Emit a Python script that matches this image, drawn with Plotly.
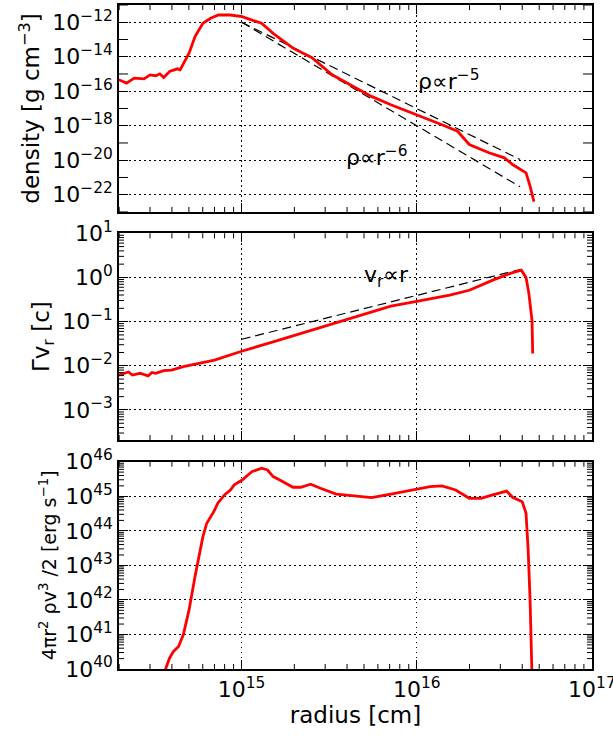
import numpy as np
import plotly.graph_objects as go

# ---- data (log10 values) ----
dens_logr = [14.298, 14.343, 14.387, 14.443, 14.477, 14.51, 14.533, 14.555, 14.589, 14.633, 14.649,
             14.70, 14.734, 14.779, 14.823, 14.868, 14.936, 15.003, 15.114, 15.18, 15.293, 15.405,
             15.517, 15.629, 15.741, 15.852, 16.0, 16.144, 16.233, 16.30, 16.412, 16.50, 16.547,
             16.624, 16.647, 16.669]
dens_logv = [-15.33, -15.53, -15.24, -15.28, -15.05, -15.1, -14.99, -15.2, -14.85, -14.70, -14.76,
             -13.79, -12.83, -12.06, -11.77, -11.58, -11.58, -11.68, -12.06, -12.64, -13.5, -14.08,
             -15.05, -15.68, -16.3, -16.78, -17.36, -17.94, -18.32, -19.09, -19.57, -19.86, -20.25,
             -20.73, -21.5, -22.4]
ref5_logr = [15.0, 16.59]
ref5_logv = [-12.0, -19.96]
ref6_logr = [15.0, 16.59]
ref6_logv = [-12.0, -21.54]

vel_logr = [14.298, 14.354, 14.376, 14.42, 14.466, 14.488, 14.51, 14.555, 14.6, 14.667, 14.845,
            15.0, 15.18, 15.405, 15.629, 15.852, 16.0, 16.188, 16.30, 16.434, 16.547, 16.597,
            16.624, 16.64, 16.658, 16.662]
vel_logv = [-2.21, -2.14, -2.21, -2.17, -2.23, -2.15, -2.17, -2.11, -2.10, -2.02, -1.87,
            -1.67, -1.46, -1.19, -0.91, -0.65, -0.54, -0.40, -0.29, -0.06, 0.11, 0.165,
            0.0, -0.36, -0.97, -1.72]
refv_logr = [15.0, 16.59]
refv_logv = [-1.40, 0.18]

lum_logr = [14.55, 14.566, 14.589, 14.611, 14.64, 14.667, 14.70, 14.734, 14.779, 14.801, 14.842,
            14.864, 14.902, 14.936, 14.958, 15.003, 15.058, 15.114, 15.148, 15.18, 15.226,
            15.293, 15.338, 15.394, 15.45, 15.54, 15.629, 15.741, 15.852, 16.0, 16.076, 16.144,
            16.222, 16.30, 16.367, 16.434, 16.513, 16.547, 16.602, 16.624, 16.636, 16.647,
            16.658, 16.662]
lum_logv = [39.6, 40.0, 40.32, 40.51, 40.65, 40.99, 41.71, 42.68, 43.83, 44.22, 44.56,
            44.80, 45.04, 45.18, 45.33, 45.47, 45.71, 45.81, 45.76, 45.57, 45.45,
            45.26, 45.26, 45.35, 45.23, 45.06, 45.02, 44.96, 45.06, 45.20, 45.28, 45.30,
            45.18, 44.94, 44.94, 45.04, 45.15, 44.97, 44.84, 44.51, 43.45, 42.0,
            40.0, 39.0]

dens_ticks = [-22, -20, -18, -16, -14, -12]
dens_minor = [-23, -21, -19, -17, -15, -13, -11]
vel_ticks = [-3, -2, -1, 0, 1]
lum_ticks = [40, 41, 42, 43, 44, 45, 46]
x_ticks = [15, 16, 17]


def p10(a):
    return [10.0 ** v for v in a]


def lab(k):
    s = str(k).replace("-", "\u2212")
    return "10<sup>" + s + "</sup>"


def minor_vals(d0, d1, lo, hi):
    out = []
    for d in range(d0, d1):
        for m in range(2, 10):
            v = np.log10(m) + d
            if lo < v < hi:
                out.append(m * 10.0 ** d)
    return out


RED = "#ff0000"
DASH = "9px,5px"
fig = go.Figure()
fig.add_trace(go.Scatter(x=p10(ref5_logr), y=p10(ref5_logv), mode="lines",
                         line=dict(color="black", width=1.2, dash=DASH), xaxis="x", yaxis="y"))
fig.add_trace(go.Scatter(x=p10(ref6_logr), y=p10(ref6_logv), mode="lines",
                         line=dict(color="black", width=1.2, dash=DASH), xaxis="x", yaxis="y"))
fig.add_trace(go.Scatter(x=p10(dens_logr), y=p10(dens_logv), mode="lines",
                         line=dict(color=RED, width=2.8), xaxis="x", yaxis="y"))
fig.add_trace(go.Scatter(x=p10(refv_logr), y=p10(refv_logv), mode="lines",
                         line=dict(color="black", width=1.2, dash=DASH), xaxis="x2", yaxis="y2"))
fig.add_trace(go.Scatter(x=p10(vel_logr), y=p10(vel_logv), mode="lines",
                         line=dict(color=RED, width=2.8), xaxis="x2", yaxis="y2"))
fig.add_trace(go.Scatter(x=p10(lum_logr), y=p10(lum_logv), mode="lines",
                         line=dict(color=RED, width=2.8), xaxis="x3", yaxis="y3"))

FONT = "DejaVu Sans"
XR = [14.3, 17.0005]
common = dict(type="log", showline=True, linecolor="black", linewidth=1.5, mirror="allticks",
              ticks="inside", ticklen=9, tickwidth=1, tickcolor="black",
              showgrid=True, gridcolor="black", griddash="1.5px,3.5px", gridwidth=1,
              zeroline=False, automargin=False, ticklabeloverflow="allow",
              tickfont=dict(family=FONT, size=22, color="black"))


def xax(anchor, show_labels, title=None):
    d = dict(common)
    d.update(range=XR, anchor=anchor, tickmode="array",
             tickvals=p10(x_ticks), ticktext=[lab(k) for k in x_ticks],
             showticklabels=show_labels)
    if title:
        d["title"] = dict(text=title, font=dict(family=FONT, size=23, color="black"), standoff=4)
    return d


layout = dict(
    width=613, height=742, showlegend=False,
    margin=dict(l=119, r=21, t=5, b=73),
    paper_bgcolor="white", plot_bgcolor="white",
    xaxis=xax("y", False),
    xaxis2=xax("y2", False),
    xaxis3=xax("y3", True, "radius [cm]"),
)

ya = dict(common)
ya.update(domain=[0.6883, 1.0], range=[-23, -11], anchor="x", tickmode="array",
          tickvals=p10(dens_ticks), ticktext=[lab(k) for k in dens_ticks],
          title=dict(text="density [g cm<sup>\u22123</sup>]", font=dict(family=FONT, size=23, color="black"), standoff=6))
layout["yaxis"] = ya

yb = dict(common)
yb.update(domain=[0.3449, 0.6562], range=[-3.68, 1.0], anchor="x2", tickmode="array",
          tickvals=p10(vel_ticks), ticktext=[lab(k) for k in vel_ticks],
          title=dict(text="\u0393v<sub>r</sub> [c]", font=dict(family=FONT, size=23, color="black"), standoff=6))
layout["yaxis2"] = yb

yc = dict(common)
yc.update(domain=[0.0, 0.3122], range=[40.0, 46.0], anchor="x3", tickmode="array",
          tickvals=p10(lum_ticks), ticktext=[lab(k) for k in lum_ticks],
          title=dict(text="4\u03c0r<sup>2</sup> \u03c1v<sup>3</sup> /2 [erg s<sup>\u22121</sup>]",
                     font=dict(family=FONT, size=19, color="black"), standoff=4))
layout["yaxis3"] = yc

# ---- minor ticks drawn as short pixel-sized lines (inside, on all four sides) ----
shapes = []
tick_line = dict(color="black", width=1)
MINLEN = 5
for xa, yaname in [("x", "y"), ("x2", "y2"), ("x3", "y3")]:
    for v in minor_vals(14, 17, XR[0], 17.0):
        for anc, sgn in [(0, 1), (1, -1)]:
            shapes.append(dict(type="line", xref=xa, yref=yaname + " domain", x0=v, x1=v,
                               ysizemode="pixel", yanchor=anc, y0=0, y1=sgn * MINLEN,
                               line=tick_line, layer="above"))


def ytick_shapes(xa, yaname, vals, length):
    for v in vals:
        for anc, sgn in [(0, 1), (1, -1)]:
            shapes.append(dict(type="line", xref=xa + " domain", yref=yaname, y0=v, y1=v,
                               xsizemode="pixel", xanchor=anc, x0=0, x1=sgn * length,
                               line=tick_line, layer="above"))


ytick_shapes("x", "y", p10(dens_minor), 9)
ytick_shapes("x2", "y2", minor_vals(-4, 1, -3.68, 1.0), MINLEN)
ytick_shapes("x3", "y3", minor_vals(40, 46, 40.0, 46.0), MINLEN)
layout["shapes"] = shapes

fig.update_layout(**layout)

ann_font = dict(family=FONT, size=22, color="black")
fig.add_annotation(x=16.18, y=-15.33, xref="x", yref="y", text="\u03c1\u221dr<sup>\u22125</sup>",
                   showarrow=False, font=ann_font)
fig.add_annotation(x=15.77, y=-19.78, xref="x", yref="y", text="\u03c1\u221dr<sup>\u22126</sup>",
                   showarrow=False, font=ann_font)
fig.add_annotation(x=15.83, y=0.02, xref="x2", yref="y2", text="v<sub>r</sub>\u221dr",
                   showarrow=False, font=ann_font)

fig.write_html("out.html")
